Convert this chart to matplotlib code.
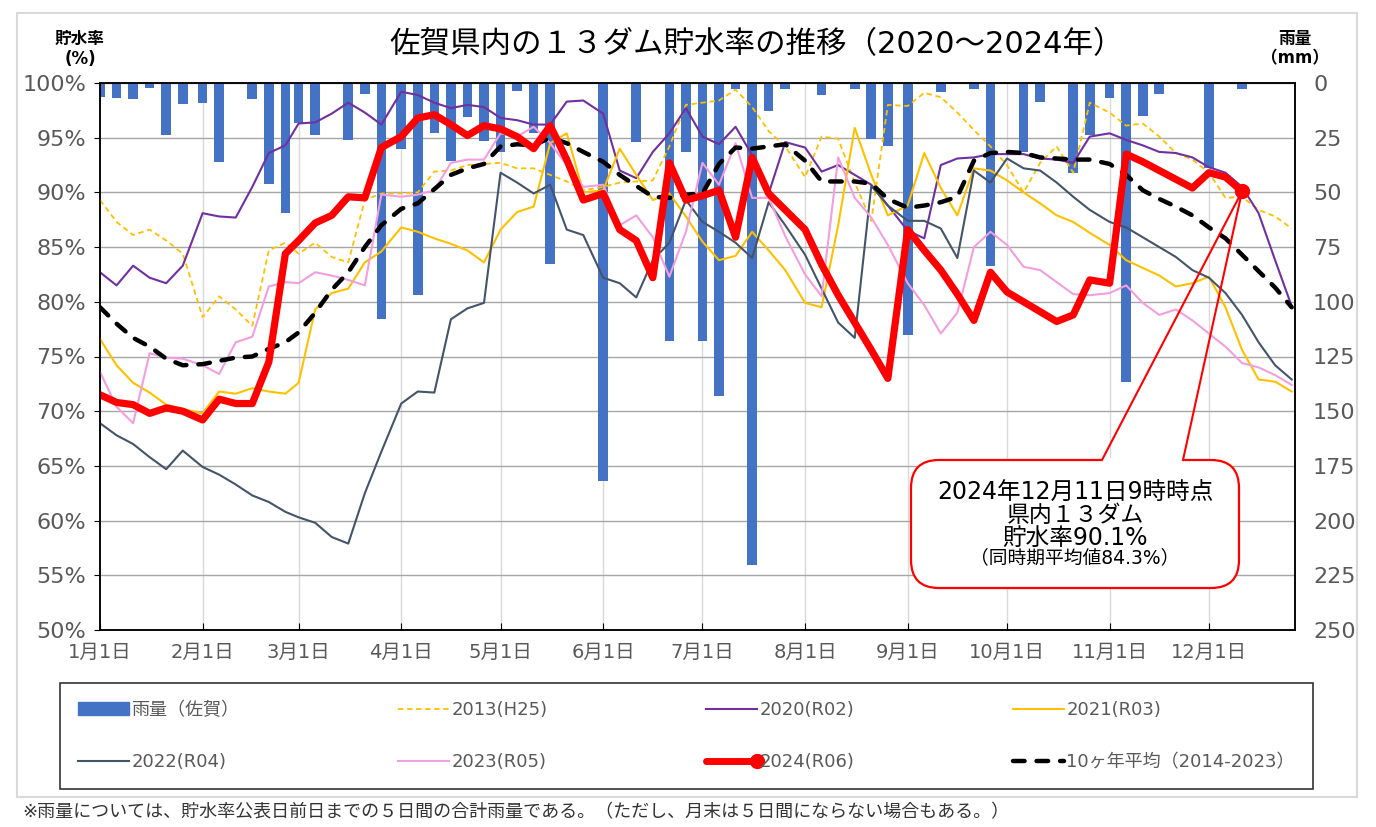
# 佐賀県内13ダム貯水率の推移 (2020-2024)

import numpy as np
import pandas as pd
import matplotlib
matplotlib.use('Agg')
import matplotlib.pyplot as plt
import matplotlib.dates as mdates
from matplotlib.patches import FancyBboxPatch, Rectangle, Patch
from matplotlib.lines import Line2D
from matplotlib.legend_handler import HandlerBase

plt.rcParams['font.family'] = ['DejaVu Sans', 'Noto Sans CJK JP']

# data: every 5 days (1,6,11,16,21,26 of each month)
months = list(range(1, 13))
days5 = [1, 6, 11, 16, 21, 26]
dates = pd.to_datetime([f'2024-{m:02d}-{d:02d}' for m in months for d in days5])

r2013 = [89.3, 87.3, 86.1, 86.6, 85.6, 84.4,
         78.6, 80.5, 79.3, 77.8, 84.7, 85.4,
         84.4, 85.4, 84.1, 83.6, 89.3, 89.9,
         89.9, 90.0, 91.9, 92.0, 92.5, 92.6,
         92.7, 92.2, 92.2, 91.6, 91.0, 90.2,
         90.5, 90.9, 91.0, 91.1, 94.2, 98.0,
         98.2, 98.4, 99.4, 97.8, 95.6, 94.2,
         91.4, 95.1, 94.9, 90.9, 87.4, 98.0,
         97.9, 99.1, 98.7, 97.3, 95.7, 94.2,
         92.5, 90.0, 92.7, 94.2, 91.8, 98.2,
         97.3, 96.1, 96.3, 95.1, 93.6, 93.0,
         91.8, 89.5, 89.6, 88.4, 87.8, 86.7]

r2020 = [82.7, 81.5, 83.3, 82.2, 81.7, 83.3,
         88.1, 87.8, 87.7, 90.5, 93.6, 94.3,
         96.3, 96.4, 97.2, 98.2, 97.3, 96.2,
         99.2, 98.9, 98.2, 97.7, 98.0, 97.8,
         96.8, 96.6, 96.2, 96.2, 98.3, 98.4,
         97.2, 92.0, 91.3, 93.7, 95.4, 97.7,
         95.1, 94.4, 96.0, 93.4, 89.9, 94.6,
         94.1, 91.9, 92.5, 91.6, 90.7, 88.8,
         86.5, 85.8, 92.5, 93.1, 93.2, 93.5,
         93.5, 93.5, 93.1, 93.0, 92.7, 95.1,
         95.4, 94.8, 94.3, 93.7, 93.6, 93.2,
         92.3, 91.8, 90.5, 88.1, 83.8, 79.6]

r2021 = [76.6, 74.2, 72.6, 71.7, 70.6, 70.2,
         69.8, 71.8, 71.6, 72.1, 71.8, 71.6,
         72.6, 79.3, 80.8, 81.2, 83.6, 84.6,
         86.8, 86.4, 85.8, 85.3, 84.7, 83.6,
         86.6, 88.2, 88.7, 94.5, 95.4, 90.0,
         90.2, 94.0, 91.6, 89.3, 89.9, 87.8,
         85.5, 83.8, 84.2, 86.4, 84.7, 82.9,
         79.9, 79.5, 87.0, 95.9, 91.6, 87.9,
         88.8, 93.6, 90.4, 87.9, 92.2, 92.0,
         91.1, 90.0, 89.0, 87.9, 87.3, 86.3,
         85.2, 83.8, 83.1, 82.4, 81.4, 81.7,
         82.3, 79.5, 75.6, 72.9, 72.7, 71.8]

r2022 = [68.9, 67.8, 67.0, 65.8, 64.7, 66.4,
         64.9, 64.2, 63.3, 62.3, 61.7, 60.8,
         60.3, 59.8, 58.5, 57.9, 62.5, 66.3,
         70.7, 71.8, 71.7, 78.4, 79.4, 79.9,
         91.8, 90.9, 89.9, 90.7, 86.6, 86.1,
         82.2, 81.7, 80.4, 83.8, 85.4, 89.3,
         87.3, 86.4, 85.4, 84.0, 89.1, 87.0,
         84.3, 81.2, 78.1, 76.7, 90.6, 88.8,
         87.4, 87.4, 86.7, 84.0, 92.0, 90.9,
         93.1, 92.2, 92.0, 90.9, 89.6, 88.4,
         87.3, 86.8, 85.9, 85.0, 84.1, 82.9,
         82.2, 80.8, 78.8, 76.3, 74.2, 72.9]

r2023 = [73.6, 70.4, 68.9, 75.3, 74.9, 74.8,
         74.2, 73.4, 76.3, 76.8, 81.4, 81.8,
         81.7, 82.7, 82.4, 82.0, 81.5, 89.8,
         89.6, 89.8, 90.2, 92.7, 93.0, 93.0,
         95.4, 95.1, 96.0, 94.5, 92.5, 90.5,
         90.7, 87.0, 87.9, 85.9, 82.3, 86.4,
         92.7, 90.7, 94.5, 89.5, 89.5, 86.0,
         82.5, 80.5, 93.2, 89.5, 87.7, 85.2,
         81.7, 79.7, 77.1, 79.0, 85.0, 86.4,
         85.2, 83.2, 82.9, 81.8, 80.7, 80.6,
         80.8, 81.5, 79.9, 78.8, 79.3, 78.3,
         77.1, 75.9, 74.4, 74.0, 73.3, 72.4]

r2024 = [71.5, 70.8, 70.6, 69.8, 70.3, 70.0,
         69.2, 71.1, 70.7, 70.7, 74.5, 84.4,
         85.6, 87.2, 87.9, 89.6, 89.5, 94.1,
         95.1, 96.8, 97.1, 96.2, 95.2, 96.1,
         95.8, 95.1, 94.0, 96.1, 93.0, 89.3,
         89.9, 86.6, 85.6, 82.2, 92.7, 89.3,
         89.7, 90.2, 85.9, 93.2, 89.9, 88.4,
         86.6, 83.4, 80.6, 78.1, 75.6, 73.0,
         86.6, 84.7, 82.9, 80.7, 78.3, 82.7,
         80.9, 80.0, 79.1, 78.2, 78.8, 82.0,
         81.7, 93.5, 92.8, 92.0, 91.2, 90.4,
         91.8, 91.4, 90.1]

avg10 = [79.5, 78.0, 76.7, 75.9, 74.8, 74.2,
         74.3, 74.6, 74.9, 75.0, 75.7, 76.3,
         77.2, 79.0, 81.1, 82.7, 85.0, 87.0,
         88.5, 89.0, 90.3, 91.6, 92.2, 92.6,
         94.2, 94.4, 94.3, 95.0, 94.5, 93.7,
         92.8, 91.6, 90.6, 89.6, 89.5, 89.8,
         89.9, 92.6, 94.1, 94.0, 94.2, 94.4,
         92.9, 91.0, 91.0, 91.0, 90.8, 89.4,
         88.6, 88.8, 89.1, 89.6, 92.9, 93.6,
         93.7, 93.6, 93.2, 93.1, 93.0, 93.0,
         92.6, 91.6, 90.2, 89.4, 88.7, 87.9,
         86.8, 85.8, 84.3, 82.8, 81.3, 79.5]

# 5-day rainfall at Saga (mm)
rain = [6.2, 6.7, 7.2, 2.4, 23.6, 9.5,
        9.0, 36.0, 0, 7.5, 46.3, 59.6,
        18.1, 23.6, 0, 25.9, 5.2, 108.0,
        30.3, 97.0, 23.0, 35.5, 15.7, 26.4,
        31.4, 3.5, 23.0, 82.7, 0, 0,
        181.8, 0, 26.8, 0, 117.8, 31.4,
        117.8, 142.9, 2.9, 220.1, 12.7, 2.9,
        0, 5.5, 0, 2.9, 25.7, 28.6,
        115.2, 0, 4.0, 0, 2.9, 83.6,
        0, 31.4, 8.5, 0, 41.3, 23.8,
        6.7, 136.5, 14.9, 5.0, 0, 0,
        39.0, 0, 2.9]

month_labels = [f'{m}月1日' for m in months]
pct_ticks = list(range(50, 101, 5))
rain_ticks = list(range(0, 251, 25))

x = mdates.date2num(dates)
month_x = mdates.date2num(pd.to_datetime([f'2024-{m:02d}-01' for m in months]))
x_end = mdates.date2num(pd.Timestamp('2024-12-27'))

W, H = 1376, 827
fig = plt.figure(figsize=(W / 100, H / 100), dpi=100)
ax = fig.add_axes([100 / W, 1 - 630 / H, 1195 / W, 547 / H])
ax2 = ax.twinx()
ax.set_zorder(3)
ax2.set_zorder(2)
ax.patch.set_visible(False)
ax2.patch.set_visible(True)
ax2.patch.set_facecolor('white')

# rain bars (right axis, hanging from top)
ax2.bar(x[:len(rain)], rain, width=2.9, color='#4472C4', zorder=2)
ax2.set_ylim(250, 0)
ax2.set_yticks(rain_ticks)
ax2.grid(axis='y', color='#A6A6A6', lw=1)
ax2.set_axisbelow(True)
for mx in month_x[1:]:
    ax2.axvline(mx, color='#D9D9D9', lw=1, zorder=0.5)
ax2.tick_params(axis='y', length=0, pad=13, labelsize=16, labelcolor='#595959')

# storage lines
l2013, = ax.plot(x, r2013, color='#FFC000', lw=1.3, ls=(0, (3, 2)))
l2020, = ax.plot(x, r2020, color='#7030A0', lw=1.5)
l2021, = ax.plot(x, r2021, color='#FFC000', lw=1.5)
l2022, = ax.plot(x, r2022, color='#44546A', lw=1.5)
l2023, = ax.plot(x, r2023, color='#F29EE0', lw=1.5)
lavg, = ax.plot(x, avg10, color='black', lw=3.2, ls=(0, (2.6, 2.7)),
                dash_capstyle='round')
l2024, = ax.plot(x[:len(r2024)], r2024, color='red', lw=5.2,
                 solid_joinstyle='round', solid_capstyle='round')
ax.plot(x[len(r2024) - 1], r2024[-1], 'o', color='red', ms=10)

ax.set_xlim(x[0], x_end)
ax.set_ylim(50, 100)
ax.set_yticks(pct_ticks)
ax.set_yticklabels([f'{v}%' for v in pct_ticks])
ax.set_xticks(month_x)
ax.set_xticklabels(month_labels)
ax.tick_params(axis='y', direction='out', length=4, pad=6, labelsize=16,
               labelcolor='#595959')
ax.tick_params(axis='x', direction='in', length=5, pad=9, labelsize=14,
               labelcolor='#595959')
for a in (ax, ax2):
    for s in a.spines.values():
        s.set_color('black')
        s.set_linewidth(1.1)

# texts
fig.text(757 / W, 1 - 45 / H, '佐賀県内の１３ダム貯水率の推移（2020～2024年）',
         ha='center', va='center', fontsize=22)
fig.text(80 / W, 1 - 49 / H, '貯水率\n(%)', ha='center', va='center',
         fontsize=12, fontweight='bold', linespacing=1.1)
fig.text(1295 / W, 1 - 49 / H, '雨量\n（mm）', ha='center', va='center',
         fontsize=12, fontweight='bold', linespacing=1.1)
fig.text(22 / W, 1 - 812 / H,
         '※雨量については、貯水率公表日前日までの５日間の合計雨量である。（ただし、月末は５日間にならない場合もある。）',
         ha='left', va='center', fontsize=13, color='#333333')

fig.add_artist(Rectangle((17 / W, 1 - 797 / H), 1340 / W, 784 / H,
                         transform=fig.transFigure, fill=False,
                         edgecolor='#D9D9D9', lw=1.5))


class EndDotHandler(HandlerBase):
    def create_artists(self, legend, orig_handle, xdescent, ydescent,
                       width, height, fontsize, trans):
        yc = (height - ydescent) / 2
        ln = Line2D([-xdescent, width - xdescent], [yc, yc], color='red',
                    lw=5, solid_capstyle='round', transform=trans)
        dot = Line2D([width - xdescent], [yc], marker='o', ms=10,
                     color='red', transform=trans)
        return [ln, dot]


rain_h = Patch(color='#4472C4')
handles = [rain_h, l2022, l2013, l2023, l2020, l2024, l2021, lavg]
labels = ['雨量（佐賀）', '2022(R04)', '2013(H25)', '2023(R05)',
          '2020(R02)', '2024(R06)', '2021(R03)', '10ヶ年平均（2014-2023）']
leg = fig.legend(handles, labels, ncol=4, loc='center',
                 bbox_to_anchor=(60 / W, 1 - 787 / H, 1253 / W, 102 / H),
                 mode='expand', frameon=True, fancybox=False,
                 edgecolor='black', fontsize=13, labelspacing=1.9,
                 handlelength=2.8, handletextpad=0.15, borderaxespad=0,
                 borderpad=1.0, handler_map={l2024: EndDotHandler()})
leg.get_frame().set_linewidth(1.2)
for t in leg.get_texts():
    t.set_color('#595959')

# callout box (pixel overlay)
ov = fig.add_axes([0, 0, 1, 1], zorder=10)
ov.set_xlim(0, W)
ov.set_ylim(H, 0)
ov.axis('off')
tx, ty = ax.transData.transform((x[len(r2024) - 1], r2024[-1]))
tip = (tx, H - ty)
bx0, by0, bx1, by1 = 911, 460, 1239, 588
box = FancyBboxPatch((bx0, by0), bx1 - bx0, by1 - by0,
                     boxstyle='round,pad=0,rounding_size=28',
                     facecolor='white', edgecolor='red', lw=1.6)
ov.add_patch(box)
ov.plot([1102, 1183], [by0, by0], color='white', lw=3, solid_capstyle='butt')
ov.plot([1102, tip[0], 1183], [by0, tip[1], by0], color='red', lw=1.5)
cx = (bx0 + bx1) / 2
ov.text(cx, 492, '2024年12月11日9時時点', ha='center', va='center', fontsize=17)
ov.text(cx, 515, '県内１３ダム', ha='center', va='center', fontsize=16.5)
ov.text(cx, 538, '貯水率90.1%', ha='center', va='center', fontsize=17)
ov.text(cx, 558, '（同時期平均値84.3%）', ha='center', va='center', fontsize=13.5)

fig.savefig('out.png', dpi=100)
